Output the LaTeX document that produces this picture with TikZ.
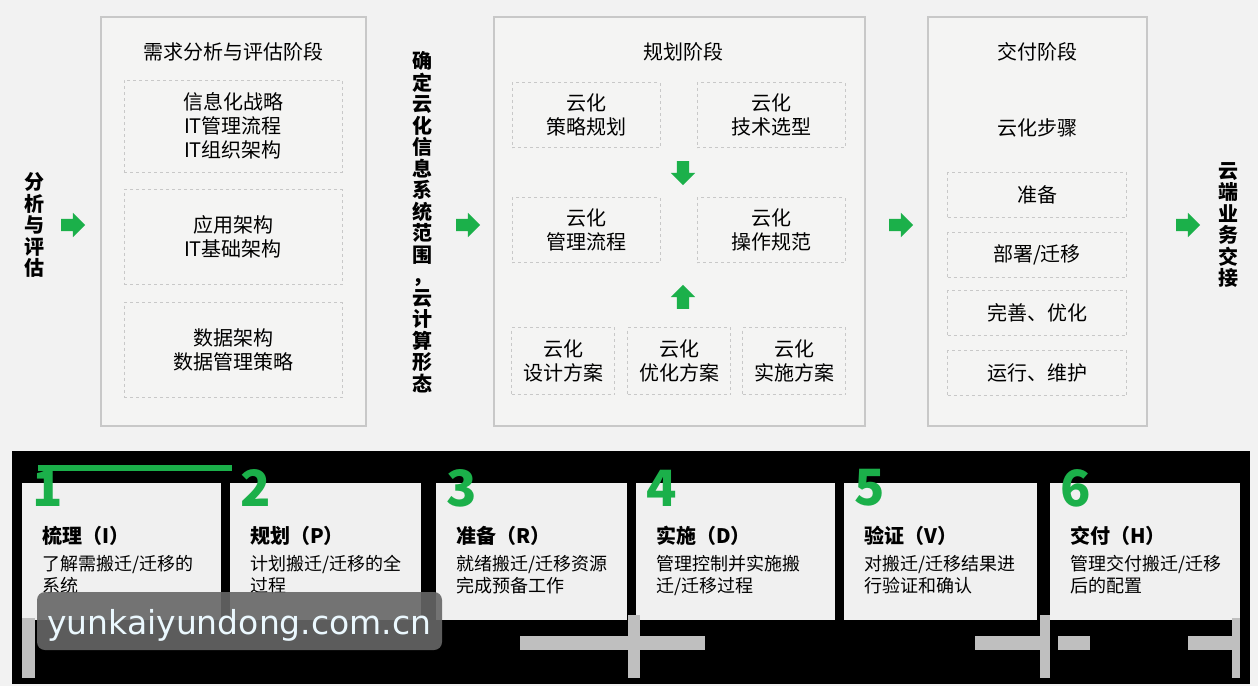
\documentclass[tikz,border=0pt]{standalone}
\usepackage{fontspec}
\setmainfont{Noto Sans CJK SC}
\newfontfamily\wmfont{DejaVu Sans}
\usetikzlibrary{positioning,shapes.arrows}
\definecolor{cgreen}{HTML}{1BB04A}
\definecolor{cpanel}{HTML}{F4F4F3}
\definecolor{cborder}{HTML}{C8C8C8}
\tikzset{
  phase/.style={draw=cborder,fill=cpanel,line width=1.2pt},
  item/.style={draw=cborder,dashed,line width=1pt,align=center,font=\fontsize{20}{24}\selectfont,inner sep=0pt},
  garrow/.style={single arrow,fill=cgreen,draw=none,inner sep=6pt,single arrow head extend=6pt,minimum height=24pt},
  vtext/.style={align=center,font=\bfseries\fontsize{20}{21.5}\selectfont},
  stepbox/.style={fill=white!94!black,draw=none},
  num/.style={text=cgreen,font=\bfseries\fontsize{50}{50}\selectfont,anchor=west,inner sep=0pt},
  stitle/.style={font=\bfseries\fontsize{20}{24}\selectfont,anchor=west,inner sep=0pt},
  sdesc/.style={font=\fontsize{18}{22}\selectfont,anchor=north west,align=left,inner sep=0pt}
}
\begin{document}
\begin{tikzpicture}[x=1pt,y=-1pt]
 \useasboundingbox (0,0) rectangle (1258,686);
 \fill[white!95!black] (0,0) rectangle (1258,686);

 % phase panels
 \draw[phase] (101,17) rectangle (366,426);
 \draw[phase] (494,17) rectangle (865,426);
 \draw[phase] (928,17) rectangle (1147,426);

 % analysis phase
 \node[font=\fontsize{20}{24}\selectfont] (t1) at (233,52) {需求分析与评估阶段};
 \node[item,minimum width=218pt,minimum height=92pt] (a1) at (233,126) {信息化战略\\IT管理流程\\IT组织架构};
 \node[item,minimum width=218pt,minimum height=95pt] (a2) at (233,237) {应用架构\\IT基础架构};
 \node[item,minimum width=218pt,minimum height=95pt] (a3) at (233,350) {数据架构\\数据管理策略};

 % planning phase
 \node[font=\fontsize{20}{24}\selectfont] (t2) at (683,52) {规划阶段};
 \node[item,minimum width=148pt,minimum height=65pt] (p1) at (586,115) {云化\\策略规划};
 \node[item,minimum width=148pt,minimum height=65pt] (p2) at (771,115) {云化\\技术选型};
 \node[item,minimum width=148pt,minimum height=65pt] (p3) at (586,230) {云化\\管理流程};
 \node[item,minimum width=148pt,minimum height=65pt] (p4) at (771,230) {云化\\操作规范};
 \node[item,minimum width=103pt,minimum height=67pt] (p5) at (563,361) {云化\\设计方案};
 \node[item,minimum width=103pt,minimum height=67pt] (p6) at (679,361) {云化\\优化方案};
 \node[item,minimum width=103pt,minimum height=67pt] (p7) at (794,361) {云化\\实施方案};
 \node[garrow,rotate=-90] (dn) at (683,170) {};
 \node[garrow,rotate=90] (up) at (683,300) {};

 % delivery phase
 \node[font=\fontsize{20}{24}\selectfont] (t3) at (1037,52) {交付阶段};
 \node[font=\fontsize{20}{24}\selectfont] (t4) at (1037,128) {云化步骤};
 \node[item,minimum width=179pt,minimum height=45pt] (d1) at (1037,195) {准备};
 \node[item,minimum width=179pt,minimum height=45pt] (d2) at (1037,255) {部署/迁移};
 \node[item,minimum width=179pt,minimum height=45pt] (d3) at (1037,313) {完善、优化};
 \node[item,minimum width=179pt,minimum height=45pt] (d4) at (1037,373) {运行、维护};

 % side texts and arrows
 \node[vtext] (v1) at (34,225) {分\\析\\与\\评\\估};
 \node[vtext] (v2) at (422,222) {确\\定\\云\\化\\信\\息\\系\\统\\范\\围\\，\\云\\计\\算\\形\\态};
 \node[vtext] (v3) at (1228,225) {云\\端\\业\\务\\交\\接};
 \node[garrow] (g1) at (70,225) {};
 \node[garrow] (g2) at (465,225) {};
 \node[garrow] (g3) at (898,225) {};
 \node[garrow] (g4) at (1185,225) {};

 % bottom band
 \fill[black] (12,451) rectangle (1250,684);
 \fill[cgreen] (38,465) rectangle (232,471);
 \foreach \xa/\xb/\n/\ttl/\dsc in {
   22/221/1/{梳理（I）}/{了解需搬迁/迁移的\\系统},
   230/421/2/{规划（P）}/{计划搬迁/迁移的全\\过程},
   436/627/3/{准备（R）}/{就绪搬迁/迁移资源\\完成预备工作},
   636/835/4/{实施（D）}/{管理控制并实施搬\\迁/迁移过程},
   844/1037/5/{验证（V）}/{对搬迁/迁移结果进\\行验证和确认},
   1050/1240/6/{交付（H）}/{管理交付搬迁/迁移\\后的配置}} {
   \fill[stepbox] (\xa,483) rectangle (\xb,620);
   \node[num] (n\n) at (\xa+10,488) {\n};
   \node[stitle] (s\n) at (\xa+20,536) {\ttl};
   \node[sdesc] (e\n) at (\xa+20,555) {\dsc};
 }
 % grey marks
 \fill[white!75!black] (22,618) rectangle (35,678);
 \fill[white!75!black] (520,636) rectangle (705,650);
 \fill[white!75!black] (628,615) rectangle (640,678);
 \fill[white!75!black] (975,636) rectangle (1045,650);
 \fill[white!75!black] (1040,615) rectangle (1050,678);
 \fill[white!75!black] (1058,636) rectangle (1090,650);
 \fill[white!75!black] (1188,636) rectangle (1240,650);
 \fill[white!75!black] (1232,618) rectangle (1240,678);

 % watermark
 \fill[black!60,opacity=0.9,rounded corners=8pt] (37,592) rectangle (442,650);
 \node[text=white!92!cyan,font=\wmfont\fontsize{33}{33}\selectfont,anchor=west,inner sep=0pt] (wm) at (47,625) {yunkaiyundong.com.cn};
\end{tikzpicture}
\end{document}
